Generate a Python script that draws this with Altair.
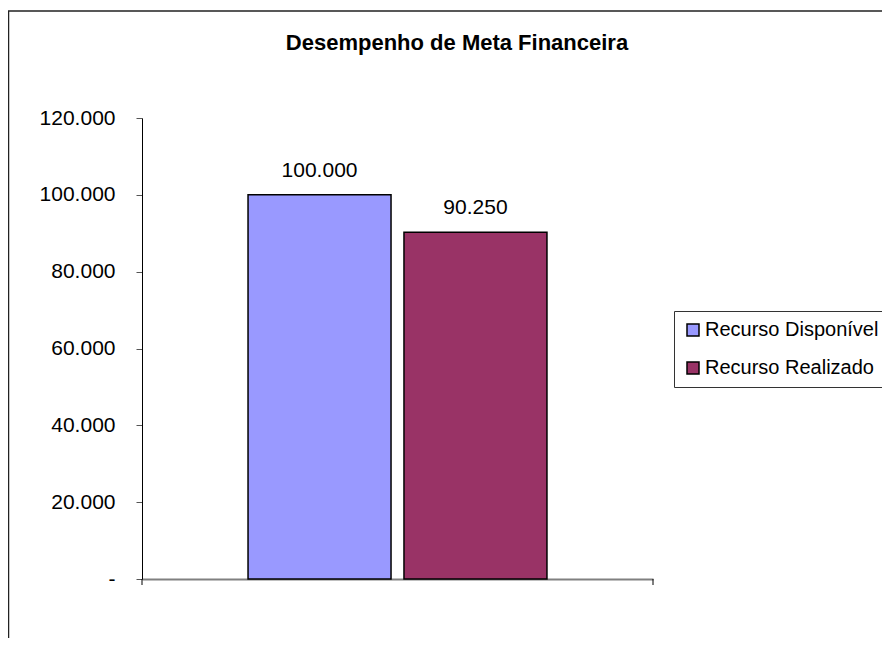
import altair as alt
import pandas as pd

title_text = "Desempenho de Meta Financeira"
series = ["Recurso Disponível", "Recurso Realizado"]
values = [100000, 90250]
colors = ["#9999FF", "#993366"]
y_ticks = [0, 20000, 40000, 60000, 80000, 100000, 120000]

df = pd.DataFrame({"serie": series, "valor": values})

W, H = 511, 461
FONT = "Liberation Sans"

base = alt.Chart(df)

bars = base.mark_bar(stroke="#000000", strokeWidth=1.5).encode(
    x=alt.X("serie:N", sort=series,
            scale=alt.Scale(paddingInner=0.083, paddingOuter=0.68),
            axis=alt.Axis(title=None, labels=False, ticks=False,
                          domainColor="#808080", domainWidth=2)),
    y=alt.Y("valor:Q",
            scale=alt.Scale(domain=[0, 120000], nice=False),
            axis=alt.Axis(title=None, values=y_ticks, grid=False,
                          domainColor="#000000", domainWidth=1,
                          tickColor="#555555", tickSize=6, labelPadding=21,
                          labelFontSize=21, labelFont=FONT, labelColor="#000000",
                          labelExpr="datum.value == 0 ? '-' : replace(format(datum.value, ',d'), ',', '.')")),
    color=alt.Color("serie:N", sort=series,
                    scale=alt.Scale(domain=series, range=colors),
                    legend=alt.Legend(title=None, orient="none", legendX=532, legendY=193,
                                      labelFontSize=20, labelFont=FONT, labelColor="#000000",
                                      labelLimit=400,
                                      symbolType="square", symbolSize=144,
                                      symbolStrokeColor="#000000", symbolStrokeWidth=1.5,
                                      symbolOpacity=1,
                                      rowPadding=18, padding=9, labelOffset=2,
                                      strokeColor="#333333", fillColor="#FFFFFF")),
)

labels = base.transform_calculate(
    lbl="replace(format(datum.valor, ',d'), ',', '.')"
).mark_text(baseline="alphabetic", dy=-18, fontSize=21, font=FONT, color="#000000").encode(
    x=alt.X("serie:N", sort=series),
    y=alt.Y("valor:Q"),
    text="lbl:N",
)

one = alt.Data(values=[{"t": title_text}])

frame = alt.Chart(one).mark_rect(fillOpacity=0, stroke="#222222", strokeWidth=1.5).encode(
    x=alt.value(-133.5), x2=alt.value(W + 400),
    y=alt.value(-107), y2=alt.value(H + 300),
)

title = alt.Chart(one).mark_text(fontSize=22, fontWeight="bold", font=FONT, color="#000000",
                                 align="center", baseline="alphabetic").encode(
    x=alt.value(315), y=alt.value(-68), text="t:N"
)

tick_left = alt.Chart(one).mark_rule(color="#000000", strokeWidth=1).encode(
    x=alt.value(0), y=alt.value(H), y2=alt.value(H + 6)
)
tick_right = alt.Chart(one).mark_rule(color="#000000", strokeWidth=1).encode(
    x=alt.value(W), y=alt.value(H), y2=alt.value(H + 6)
)

chart = alt.layer(frame, title, bars, labels, tick_left, tick_right).properties(
    width=W, height=H,
    background="#FFFFFF",
    autosize=alt.AutoSizeParams(type="none"),
    padding={"left": 134, "top": 110, "right": 229, "bottom": 59},
).configure_view(strokeWidth=0, stroke="transparent")

chart.save("out.html", embed_options={"renderer": "svg", "actions": False})
